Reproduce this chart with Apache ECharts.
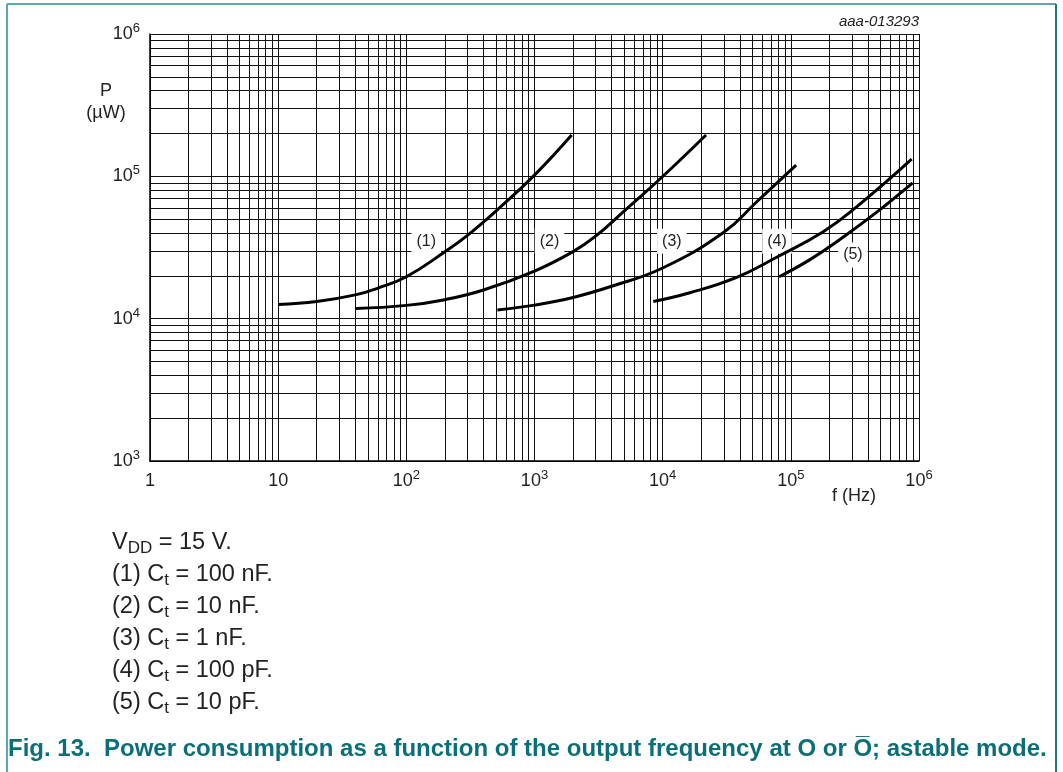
<!DOCTYPE html>
<html><head><meta charset="utf-8">
<script src="https://cdn.jsdelivr.net/npm/echarts@6/dist/echarts.min.js"></script>
<style>html,body{margin:0;padding:0;background:#fff}#c{width:1063px;height:772px}</style>
</head><body><div id="c"></div>
<script>
// ---- data (f in Hz, P in µW) ----
const curve1 = [[10,12600],[20,13200],[40,14700],[60,16400],[100,19700],[200,29500],[300,38500],[500,57000],[1000,102000],[1950,195000]];
const curve2 = [[40.5,11800],[100,12400],[200,13600],[400,15900],[1000,21600],[2000,29600],[3000,38000],[5000,57000],[10000,99700],[21800,195000]];
const curve3 = [[513,11500],[1000,12450],[2000,14100],[4000,16900],[10000,22700],[30000,40500],[54000,66000],[110000,120000]];
const curve4 = [[8450,13200],[16300,15200],[37800,19500],[77500,27000],[179000,40800],[326000,61000],[877000,132000]];
const curve5 = [[81000,19700],[141000,26000],[257000,37500],[468000,56000],[893000,90000]];
const curveNames = ['(1)','(2)','(3)','(4)','(5)'];
const curveLabelPos = [[143,35000],[1310,35000],[11800,35000],[78000,35000],[305000,28000]];

// axis / grid structure
const xMin = 1, xMax = 1e6, yMin = 1e3, yMax = 1e6;
const xDecades = [1,10,100,1000,10000,100000];
const yDecades = [1000,10000,100000];
const minorMultipliers = [2,3,4,5,6,7,8,9];

// texts
const chartCode = 'aaa-013293';
const yAxisName = ['P','(µW)'];
const xAxisName = 'f (Hz)';
const notes = [
  '{n|V}{sub|DD}{n| = 15 V.}',
  '{n|(1) C}{sub|t}{n| = 100 nF.}',
  '{n|(2) C}{sub|t}{n| = 10 nF.}',
  '{n|(3) C}{sub|t}{n| = 1 nF.}',
  '{n|(4) C}{sub|t}{n| = 100 pF.}',
  '{n|(5) C}{sub|t}{n| = 10 pF.}'
];
const caption = 'Fig. 13.  Power consumption as a function of the output frequency at O or O\u0305; astable mode.';

const FONT = '"Liberation Sans", Arial, sans-serif';
const TXT = '#222';

const vLines = [], hLines = [];
xDecades.forEach(d => minorMultipliers.forEach(m => vLines.push({xAxis: d*m})));
yDecades.forEach(d => minorMultipliers.forEach(m => hLines.push({yAxis: d*m})));

const tickRich = {
  b: {fontSize: 18, lineHeight: 24, color: TXT, fontFamily: FONT},
  s: {fontSize: 13, lineHeight: 8, verticalAlign: 'top', color: TXT, fontFamily: FONT}
};
function expLabel(v) {
  const e = Math.round(Math.log10(v));
  if (e === 0) return '{b|1}';
  if (e === 1) return '{b|10}';
  return '{b|10}{s|' + e + '}';
}

const gridLineStyle = {type: 'solid', color: '#111', width: 1};
function curveSeries(data) {
  return {type: 'line', data: data, smooth: 0.45, showSymbol: false, symbol: 'none',
    lineStyle: {color: '#000', width: 3}, z: 6, silent: true, animation: false};
}

const chart = echarts.init(document.getElementById('c'), null, {renderer: 'canvas'});
const option = {
  backgroundColor: '#fff',
  animation: false,
  grid: {left: 150, top: 34, width: 769, height: 427, containLabel: false},
  xAxis: {
    type: 'log', logBase: 10, min: xMin, max: xMax,
    axisLine: {show: true, lineStyle: {color: '#000', width: 1.5}},
    axisTick: {show: false},
    splitLine: {show: true, showMinLine: true, showMaxLine: true, lineStyle: gridLineStyle},
    axisLabel: {show: true, margin: 8, formatter: expLabel, rich: tickRich, showMinLabel: true, showMaxLabel: true}
  },
  yAxis: {
    type: 'log', logBase: 10, min: yMin, max: yMax,
    axisLine: {show: true, lineStyle: {color: '#000', width: 1.5}},
    axisTick: {show: false},
    splitLine: {show: true, showMinLine: true, showMaxLine: true, lineStyle: gridLineStyle},
    axisLabel: {show: true, margin: 10, formatter: expLabel, rich: tickRich, showMinLabel: true, showMaxLabel: true}
  },
  series: [
    {type: 'line', data: [], z: 1, silent: true,
      markLine: {z: 1, silent: true, symbol: ['none','none'], label: {show: false}, lineStyle: gridLineStyle,
        emphasis: {disabled: true}, animation: false, data: vLines.concat(hLines)}},
    {type: 'scatter', data: curveLabelPos, symbol: 'circle', symbolSize: 0, itemStyle: {color: '#fff', opacity: 1}, z: 4, silent: true,
      label: {show: true, position: 'inside', formatter: p => curveNames[p.dataIndex], opacity: 1,
        textBorderWidth: 0, textBorderColor: 'transparent',
        backgroundColor: '#fff', padding: [5,5,4,5], fontSize: 16, color: '#222', fontFamily: FONT},
      emphasis: {disabled: true}},
    curveSeries(curve1), curveSeries(curve2), curveSeries(curve3), curveSeries(curve4), curveSeries(curve5)
  ],
  graphic: [
    // page frame
    {type: 'line', shape: {x1: 7, y1: 4, x2: 7, y2: 772}, style: {stroke: '#5ba7ad', lineWidth: 2}, silent: true},
    {type: 'line', shape: {x1: 7, y1: 4, x2: 1056, y2: 4}, style: {stroke: '#5ba7ad', lineWidth: 2}, silent: true},
    {type: 'line', shape: {x1: 1056, y1: 4, x2: 1056, y2: 772}, style: {stroke: '#23767d', lineWidth: 2}, silent: true},
    {type: 'text', x: 919, y: 22, style: {text: chartCode, font: 'italic 15px ' + FONT, fill: TXT, align: 'right', verticalAlign: 'middle'}},
    {type: 'text', x: 106, y: 91, style: {text: yAxisName[0], font: '18px ' + FONT, fill: TXT, align: 'center', verticalAlign: 'middle'}},
    {type: 'text', x: 106, y: 113, style: {text: yAxisName[1], font: '18px ' + FONT, fill: TXT, align: 'center', verticalAlign: 'middle'}},
    {type: 'text', x: 854, y: 496, style: {text: xAxisName, font: '18px ' + FONT, fill: TXT, align: 'center', verticalAlign: 'middle'}}
  ].concat(notes.map((t, i) => ({
    type: 'text', x: 112, y: 543 + i * 32,
    style: {text: t, align: 'left', verticalAlign: 'middle',
      rich: {
        n: {fontSize: 23.5, lineHeight: 27, fill: TXT, fontFamily: FONT},
        sub: {fontSize: 17, lineHeight: 14, verticalAlign: 'bottom', fill: TXT, fontFamily: FONT}
      }}
  }))).concat([
    {type: 'text', x: 8, y: 749, style: {text: caption, font: 'bold 24px ' + FONT, fill: '#0b6f78', align: 'left', verticalAlign: 'middle'}}
  ])
};
chart.setOption(option);
</script>
</body></html>
